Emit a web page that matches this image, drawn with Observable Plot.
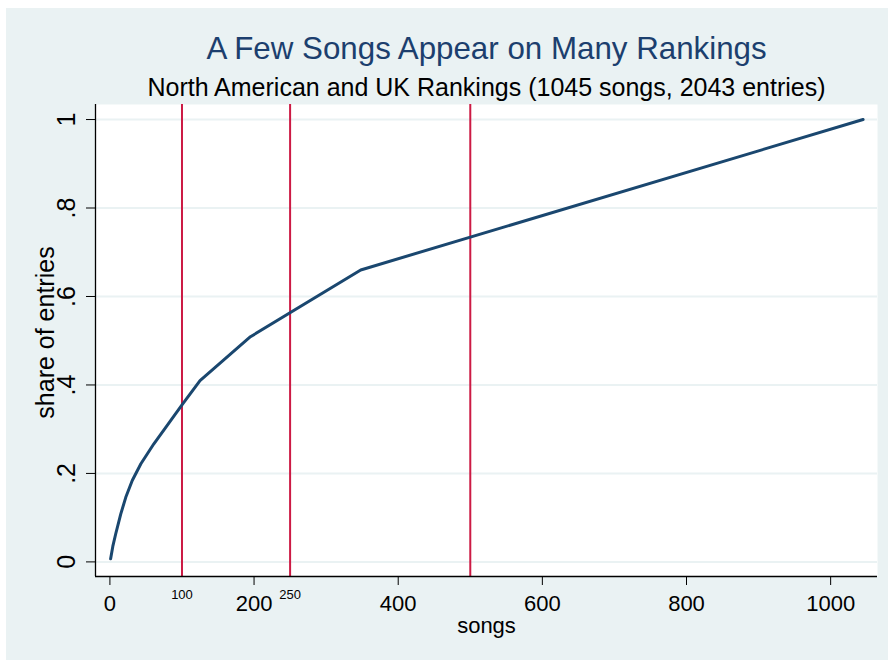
<!DOCTYPE html>
<html>
<head>
<meta charset="utf-8">
<script src="https://cdn.jsdelivr.net/npm/d3@7"></script>
<script src="https://cdn.jsdelivr.net/npm/@observablehq/plot@0.6"></script>
<style>
  html, body { margin: 0; padding: 0; background: #ffffff; }
  #wrap { position: relative; width: 888px; height: 660px; overflow: hidden; }
  #bg { position: absolute; left: 6px; top: 8px; right: 0; bottom: 0; background: #eaf2f3; }
  #chart { position: absolute; left: 0; top: 0; }
</style>
</head>
<body>
<div id="wrap"><div id="bg"></div><div id="chart"></div></div>
<script>
// Data
const songs = [1, 4, 8, 15, 22, 31, 43, 61, 80, 100, 125, 195, 348, 1045];
const share = [0.007, 0.035, 0.063, 0.108, 0.146, 0.184, 0.222, 0.267, 0.31, 0.355, 0.41, 0.509, 0.66, 1.0];
const refLines = [100, 250, 500];
const refLabels = ["100", "250"];
const xTicks = [0, 200, 400, 600, 800, 1000];
const yTicks = [0, 0.2, 0.4, 0.6, 0.8, 1];
const yTickLabels = ["0", ".2", ".4", ".6", ".8", "1"];
const titleText = "A Few Songs Appear on Many Rankings";
const subtitleText = "North American and UK Rankings (1045 songs, 2043 entries)";
const xLabel = "songs";
const yLabel = "share of entries";

const xDomain = [-20, 1065];
const yDomain = [-0.033, 1.034];

const curve = songs.map((s, i) => ({songs: s, share: share[i]}));
const refLabelData = refLabels.map(l => ({x: +l, label: l}));

const font = "'Liberation Sans', Arial, Helvetica, sans-serif";

const chart = Plot.plot({
  width: 888,
  height: 660,
  marginLeft: 95,
  marginRight: 11,
  marginTop: 104,
  marginBottom: 84,
  style: {background: "transparent", fontFamily: font, fontSize: "22px", color: "#000"},
  x: {domain: xDomain, label: null},
  y: {domain: yDomain, label: null},
  marks: [
    Plot.frame({fill: "#ffffff", stroke: null}),
    Plot.gridY(yTicks, {stroke: "#eaf2f3", strokeOpacity: 1, strokeWidth: 2}),
    Plot.ruleX(refLines, {stroke: "#cc1a44", strokeWidth: 2}),
    Plot.line(curve, {x: "songs", y: "share", stroke: "#1a476f", strokeWidth: 3}),
    Plot.ruleX([xDomain[0]], {stroke: "#000", strokeWidth: 1.3}),
    Plot.ruleY([yDomain[0]], {stroke: "#000", strokeWidth: 1.3}),
    Plot.axisX({ticks: xTicks, tickSize: 9, tickPadding: 10, fontSize: 22, tickFormat: d => String(d), label: null}),
    Plot.axisY({ticks: yTicks, tickSize: 9, tickPadding: 12, tickRotate: -90, fontSize: 25,
      tickFormat: d => yTickLabels[yTicks.indexOf(d)], label: null}),
    Plot.text(refLabelData, {x: "x", text: "label", frameAnchor: "bottom", dy: 22, lineAnchor: "bottom", fontSize: 13, fill: "#000"}),
    Plot.text([xLabel], {frameAnchor: "bottom", dy: 56, lineAnchor: "bottom", fontSize: 22, fill: "#000"}),
    Plot.text([yLabel], {frameAnchor: "left", dx: -42, dy: -8, rotate: -90, textAnchor: "middle", lineAnchor: "bottom", fontSize: 25, fill: "#000"}),
    Plot.text([titleText], {frameAnchor: "top", dy: -45.5, lineAnchor: "bottom", fontSize: 31.3, fill: "#1c3f6e"}),
    Plot.text([subtitleText], {frameAnchor: "top", dy: -8.5, lineAnchor: "bottom", fontSize: 25, fill: "#000"})
  ]
});
document.getElementById("chart").appendChild(chart);
</script>
</body>
</html>
